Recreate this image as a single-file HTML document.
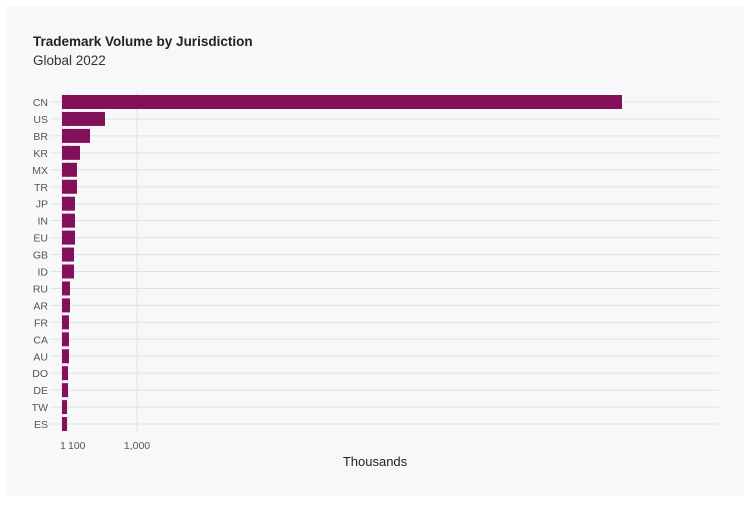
<!DOCTYPE html>
<html><head><meta charset="utf-8"><style>
body{margin:0;background:#fff;width:752px;height:503px;overflow:hidden;font-family:"Liberation Sans",sans-serif}
</style></head><body>
<svg width="752" height="503" xmlns="http://www.w3.org/2000/svg" font-family="Liberation Sans, sans-serif">
<rect x="7" y="6" width="737" height="490" fill="#f6f8f9"/>
<text x="33" y="46" font-size="13.5" font-weight="bold" fill="#222">Trademark Volume by Jurisdiction</text>
<text x="33" y="65" font-size="13.5" fill="#333">Global 2022</text>
<g stroke="#e0e3e6" stroke-width="1">
<line x1="62" y1="92" x2="62" y2="432"/>
<line x1="68" y1="92" x2="68" y2="432"/>
<line x1="137" y1="92" x2="137" y2="432"/>
</g>
<g font-size="10.5" fill="#555" text-anchor="end">
<g transform="translate(0,102)"><line x1="50" x2="719" stroke="#e0e3e6"/><text x="48" y="4">CN</text><rect x="62" y="-7" width="560" height="14" fill="#85105a"/></g>
<g transform="translate(0,118.95)"><line x1="50" x2="719" stroke="#e0e3e6"/><text x="48" y="4">US</text><rect x="62" y="-7" width="43" height="14" fill="#85105a"/></g>
<g transform="translate(0,135.9)"><line x1="50" x2="719" stroke="#e0e3e6"/><text x="48" y="4">BR</text><rect x="62" y="-7" width="28" height="14" fill="#85105a"/></g>
<g transform="translate(0,152.85)"><line x1="50" x2="719" stroke="#e0e3e6"/><text x="48" y="4">KR</text><rect x="62" y="-7" width="18" height="14" fill="#85105a"/></g>
<g transform="translate(0,169.8)"><line x1="50" x2="719" stroke="#e0e3e6"/><text x="48" y="4">MX</text><rect x="62" y="-7" width="15" height="14" fill="#85105a"/></g>
<g transform="translate(0,186.75)"><line x1="50" x2="719" stroke="#e0e3e6"/><text x="48" y="4">TR</text><rect x="62" y="-7" width="15" height="14" fill="#85105a"/></g>
<g transform="translate(0,203.7)"><line x1="50" x2="719" stroke="#e0e3e6"/><text x="48" y="4">JP</text><rect x="62" y="-7" width="13" height="14" fill="#85105a"/></g>
<g transform="translate(0,220.65)"><line x1="50" x2="719" stroke="#e0e3e6"/><text x="48" y="4">IN</text><rect x="62" y="-7" width="13" height="14" fill="#85105a"/></g>
<g transform="translate(0,237.6)"><line x1="50" x2="719" stroke="#e0e3e6"/><text x="48" y="4">EU</text><rect x="62" y="-7" width="13" height="14" fill="#85105a"/></g>
<g transform="translate(0,254.55)"><line x1="50" x2="719" stroke="#e0e3e6"/><text x="48" y="4">GB</text><rect x="62" y="-7" width="12" height="14" fill="#85105a"/></g>
<g transform="translate(0,271.5)"><line x1="50" x2="719" stroke="#e0e3e6"/><text x="48" y="4">ID</text><rect x="62" y="-7" width="12" height="14" fill="#85105a"/></g>
<g transform="translate(0,288.45)"><line x1="50" x2="719" stroke="#e0e3e6"/><text x="48" y="4">RU</text><rect x="62" y="-7" width="8" height="14" fill="#85105a"/></g>
<g transform="translate(0,305.4)"><line x1="50" x2="719" stroke="#e0e3e6"/><text x="48" y="4">AR</text><rect x="62" y="-7" width="8" height="14" fill="#85105a"/></g>
<g transform="translate(0,322.35)"><line x1="50" x2="719" stroke="#e0e3e6"/><text x="48" y="4">FR</text><rect x="62" y="-7" width="7" height="14" fill="#85105a"/></g>
<g transform="translate(0,339.3)"><line x1="50" x2="719" stroke="#e0e3e6"/><text x="48" y="4">CA</text><rect x="62" y="-7" width="7" height="14" fill="#85105a"/></g>
<g transform="translate(0,356.25)"><line x1="50" x2="719" stroke="#e0e3e6"/><text x="48" y="4">AU</text><rect x="62" y="-7" width="7" height="14" fill="#85105a"/></g>
<g transform="translate(0,373.2)"><line x1="50" x2="719" stroke="#e0e3e6"/><text x="48" y="4">DO</text><rect x="62" y="-7" width="6" height="14" fill="#85105a"/></g>
<g transform="translate(0,390.15)"><line x1="50" x2="719" stroke="#e0e3e6"/><text x="48" y="4">DE</text><rect x="62" y="-7" width="6" height="14" fill="#85105a"/></g>
<g transform="translate(0,407.1)"><line x1="50" x2="719" stroke="#e0e3e6"/><text x="48" y="4">TW</text><rect x="62" y="-7" width="5" height="14" fill="#85105a"/></g>
<g transform="translate(0,424.05)"><line x1="50" x2="719" stroke="#e0e3e6"/><text x="48" y="4">ES</text><rect x="62" y="-7" width="5" height="14" fill="#85105a"/></g>
</g>
<text x="60" y="449" font-size="10.5" fill="#555">1</text>
<text x="68" y="449" font-size="10.5" fill="#555">100</text>
<text x="137" y="449" font-size="10.5" fill="#555" text-anchor="middle">1,000</text>
<text x="375" y="466" font-size="13" fill="#222" text-anchor="middle">Thousands</text>
</svg>
</body></html>
